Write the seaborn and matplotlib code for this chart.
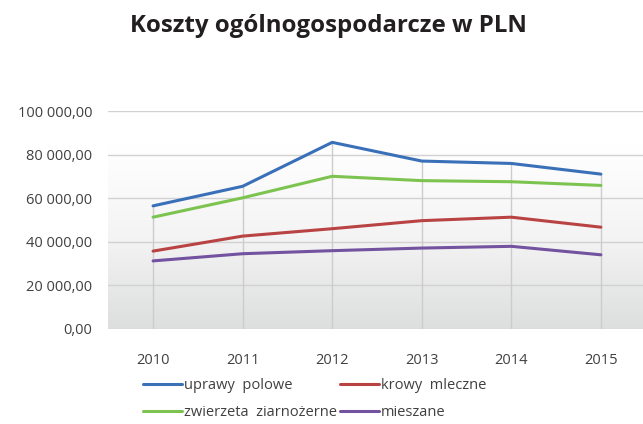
import numpy as np
import pandas as pd
import matplotlib
matplotlib.use("Agg")
import matplotlib.pyplot as plt
import seaborn as sns
from matplotlib.ticker import FuncFormatter

years = [2010, 2011, 2012, 2013, 2014, 2015]
uprawy_polowe = [56600, 65600, 85800, 77200, 76100, 71200]
krowy_mleczne = [35800, 42700, 46100, 49800, 51400, 46800]
zwierzeta_ziarnozerne = [51400, 60300, 70200, 68200, 67700, 66000]
mieszane = [31300, 34600, 36000, 37200, 38000, 34100]

series = {
    "uprawy  polowe": uprawy_polowe,
    "krowy  mleczne": krowy_mleczne,
    "zwierzeta  ziarnożerne": zwierzeta_ziarnozerne,
    "mieszane": mieszane,
}
colors = ["#3a70b8", "#b94343", "#7cc44f", "#7352a0"]

df = pd.DataFrame(
    [(i, name, v) for name, vals in series.items() for i, v in enumerate(vals)],
    columns=["idx", "grupa", "wartosc"],
)

sns.set_theme(style="white")
plt.rcParams["font.family"] = ["Open Sans", "DejaVu Sans"]

fig = plt.figure(figsize=(6.43, 4.24), dpi=100)
ax = fig.add_axes([0.1684, 0.2241, 0.8316, 0.513])

# gradient background of plot area
grad = np.linspace(0.0, 1.0, 256).reshape(-1, 1)
cmap = matplotlib.colors.LinearSegmentedColormap.from_list("g", ["#dddede", "#f4f4f4", "#ffffff"])
ax.imshow(grad, cmap=cmap, extent=(0, 1, 0, 0.85), transform=ax.transAxes,
          aspect="auto", origin="lower", zorder=0)

# drop lines (Excel style) from highest point down to the axis
tops = df.groupby("idx")["wartosc"].max()
ax.vlines(tops.index, 0, tops.values, color="#cccccc", linewidth=1.0, zorder=1)

sns.lineplot(data=df, x="idx", y="wartosc", hue="grupa", palette=colors,
             linewidth=2.2, ax=ax, legend=False, zorder=3)

ax.set_xlim(-0.5, 5.47)
ax.set_ylim(0, 100000)
ax.set_yticks(np.arange(0, 100001, 20000))
ax.yaxis.set_major_formatter(FuncFormatter(lambda v, p: f"{int(v):,}".replace(",", " ") + ",00"))
ax.set_xticks(range(len(years)))
ax.set_xticklabels([str(y) for y in years])
ax.grid(True, axis="y", color="#d2d2d2", linewidth=1.0)
ax.grid(False, axis="x")
for gl in ax.get_ygridlines():
    gl.set_zorder(1)
for s in ax.spines.values():
    s.set_visible(False)
ax.tick_params(axis="y", length=0, pad=11.7, labelsize=10.5, labelcolor="#404040")
ax.tick_params(axis="x", length=0, pad=17, labelsize=10.5, labelcolor="#404040")
ax.set_xlabel("")
ax.set_ylabel("")

fig.text(0.511, 0.925, "Koszty ogólnogospodarcze w PLN", ha="center", va="baseline",
         fontsize=17.3, fontweight="bold", color="#231f20")

names = list(series.keys())
handles = [plt.Line2D([], [], color=c, linewidth=2.2) for c in colors]
order = [0, 2, 1, 3]
fig.legend([handles[i] for i in order], [names[i] for i in order],
           loc="upper left", bbox_to_anchor=(0.2224, 0.108), ncol=2, frameon=False,
           fontsize=10.5, labelcolor="#404040", handlelength=2.67, handletextpad=0.14,
           columnspacing=0.2, labelspacing=0.8, borderaxespad=0, borderpad=0)

fig.savefig("out.png", dpi=100)
